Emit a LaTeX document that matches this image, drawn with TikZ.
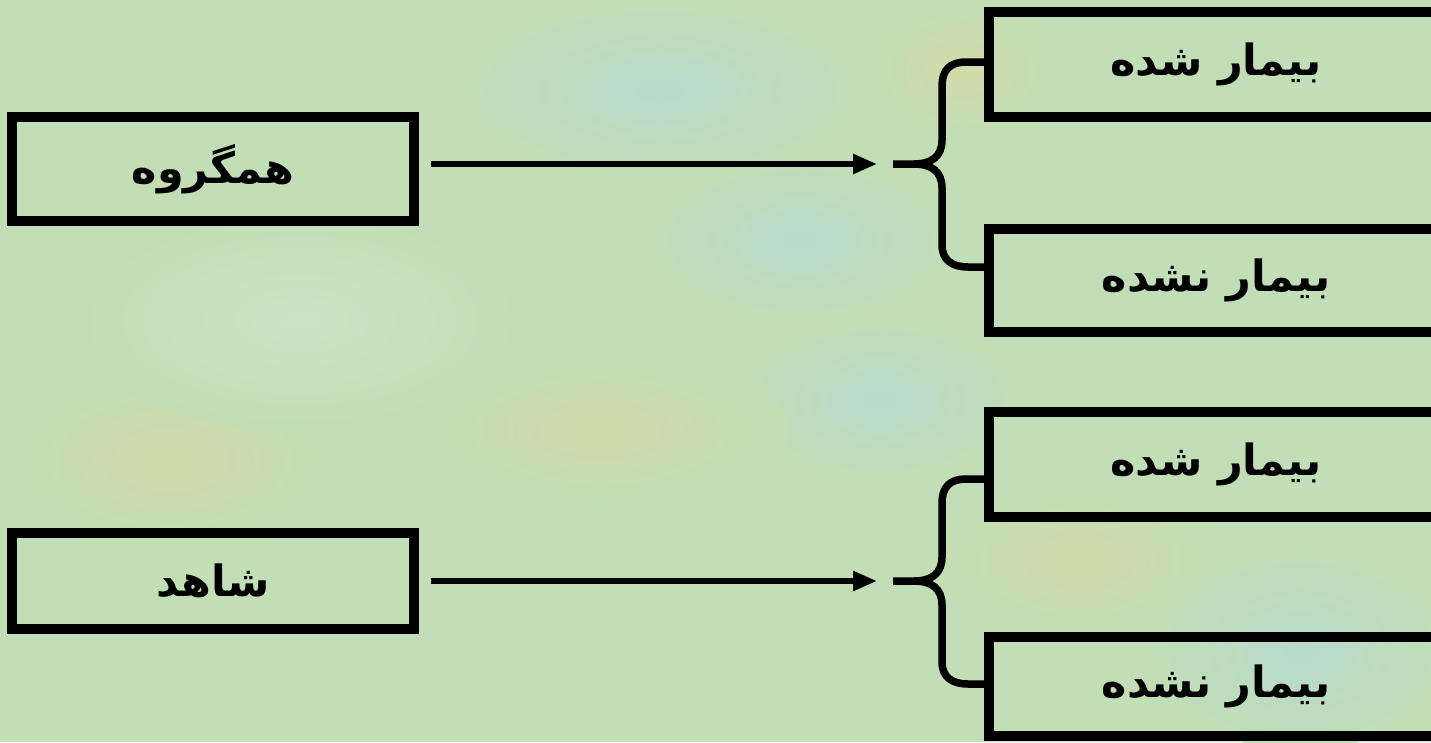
\documentclass[tikz,border=0pt]{standalone}
\usepackage{fontspec}
\usetikzlibrary{arrows.meta}
\TeXXeTstate=1
\newfontfamily\arabicfont[Script=Arabic]{DejaVu Sans}
\definecolor{bgbase}{RGB}{193,222,182}
\definecolor{bgblue}{RGB}{184,218,204}
\definecolor{bgyellow}{RGB}{210,218,170}
\definecolor{bglight}{RGB}{204,228,194}
\tikzset{
  box/.style={draw=black, line width=9.5pt, inner sep=0pt, font=\arabicfont\bfseries\fontsize{43}{48}\selectfont},
  conn/.style={draw=black, line width=5.5pt, -{Triangle[length=24pt,width=19pt]}},
  bracket/.style={draw=black, line width=7.5pt, line join=round},
  patch/.style={draw=none}
}
\begin{document}
\begin{tikzpicture}[x=1pt,y=-1pt]
\path[use as bounding box] (0,0) rectangle (1431,742);
\clip (0,0) rectangle (1431,742);
% background
\fill[bgbase] (0,0) rectangle (1431,742);
\shade[patch, inner color=bgblue, outer color=bgbase] (660,90) ellipse (200 and 90);
\shade[patch, inner color=bgblue, outer color=bgbase] (800,240) ellipse (150 and 80);
\shade[patch, inner color=bgblue, outer color=bgbase] (880,400) ellipse (140 and 80);
\shade[patch, inner color=bgyellow, outer color=bgbase] (960,70) ellipse (110 and 80);
\shade[patch, inner color=bgyellow, outer color=bgbase] (600,430) ellipse (190 and 80);
\shade[patch, inner color=bgyellow, outer color=bgbase] (170,460) ellipse (180 and 100);
\shade[patch, inner color=bglight, outer color=bgbase] (300,320) ellipse (230 and 110);
\shade[patch, inner color=bgyellow, outer color=bgbase] (1080,560) ellipse (150 and 80);
\shade[patch, inner color=bgblue, outer color=bgbase] (1300,650) ellipse (150 and 100);
% left boxes
\node[box, minimum width=402pt, minimum height=104pt] (hg) at (213,169) {\beginR همگروه\endR};
\node[box, minimum width=402pt, minimum height=96pt] (sh) at (213,581) {\beginR شاهد\endR};
% right boxes
\node[box, minimum width=454pt, minimum height=105pt] (r1) at (1216,64.5) {\beginR بیمار شده\endR};
\node[box, minimum width=454pt, minimum height=103pt] (r2) at (1216,280.5) {\beginR بیمار نشده\endR};
\node[box, minimum width=454pt, minimum height=105pt] (r3) at (1216,464.5) {\beginR بیمار شده\endR};
\node[box, minimum width=454pt, minimum height=99pt] (r4) at (1216,686.5) {\beginR بیمار نشده\endR};
% brace tips and arm ends
\coordinate (b1) at (893,164);
\coordinate (b2) at (893,581);
\coordinate (a1) at (989,62);
\coordinate (a2) at (989,267);
\coordinate (a3) at (989,479);
\coordinate (a4) at (989,684);
% arrows
\draw[conn] ([xshift=12pt]hg.east |- b1) -- ([xshift=-16pt]b1);
\draw[conn] ([xshift=12pt]sh.east |- b2) -- ([xshift=-16pt]b2);
% braces
\draw[bracket] (a1) -- (966,62) .. controls (950,62) and (942,70) .. (942,86)
  -- (942,140) .. controls (942,156) and (932,164) .. (914,164) -- (b1);
\draw[bracket] (914,164) .. controls (932,164) and (942,172) .. (942,188)
  -- (942,245) .. controls (942,260) and (952,267) .. (968,267) -- (a2);
\draw[bracket] (a3) -- (966,479) .. controls (950,479) and (942,487) .. (942,503)
  -- (942,557) .. controls (942,573) and (932,581) .. (914,581) -- (b2);
\draw[bracket] (914,581) .. controls (932,581) and (942,589) .. (942,605)
  -- (942,662) .. controls (942,677) and (952,684) .. (968,684) -- (a4);
\end{tikzpicture}
\end{document}
